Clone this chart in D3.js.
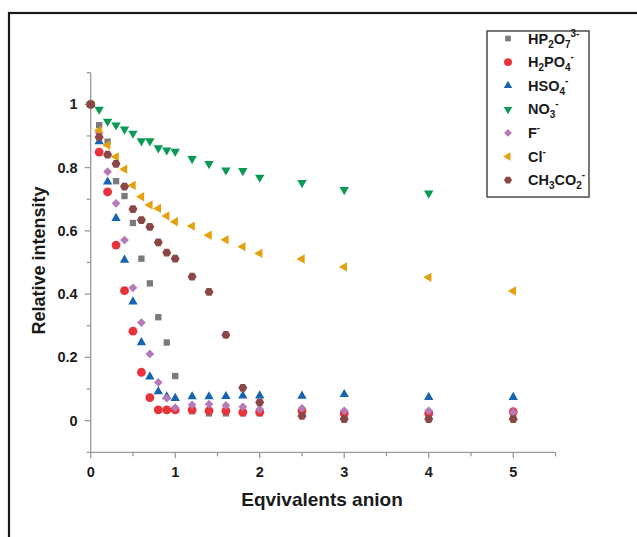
<!DOCTYPE html>
<html>
<head>
<meta charset="utf-8">
<script src="https://cdn.jsdelivr.net/npm/d3@7"></script>
<style>
  html, body { margin: 0; padding: 0; background: #fff; }
  svg { display: block; }
  text { font-family: "Liberation Sans", Arial, Helvetica, sans-serif; font-weight: bold; fill: #1a1a1a; }
</style>
</head>
<body>
<svg id="chart" width="637" height="537"></svg>
<script>
// Equivalents of added anion (x values shared by all series)
const equivalents = [0, 0.1, 0.2, 0.3, 0.4, 0.5, 0.6, 0.7, 0.8, 0.9, 1.0, 1.2, 1.4, 1.6, 1.8, 2.0, 2.5, 3, 4, 5];

// Relative intensity per anion (null = not measured)
const hp2o7  = [1, 0.934, 0.882, 0.757, 0.710, 0.625, 0.512, 0.434, 0.327, 0.247, 0.141, 0.030, 0.023, 0.023, 0.023, 0.023, 0.020, 0.020, 0.020, 0.020];
const h2po4  = [1, 0.849, 0.723, 0.555, 0.411, 0.283, 0.153, 0.073, 0.034, 0.034, 0.034, 0.034, 0.031, 0.031, 0.027, 0.027, 0.031, 0.023, 0.023, 0.028];
const hso4   = [1, 0.882, 0.755, 0.640, 0.508, 0.376, 0.247, 0.139, 0.092, 0.076, 0.071, 0.076, 0.076, 0.077, 0.079, 0.079, 0.078, 0.083, 0.074, 0.074];
const no3    = [1, 0.984, 0.946, 0.934, 0.921, 0.908, 0.884, 0.884, 0.862, 0.855, 0.851, 0.828, 0.812, 0.792, 0.790, 0.769, 0.752, 0.730, 0.719, null];
const fluor  = [1, 0.910, 0.787, 0.687, 0.571, 0.420, 0.310, 0.211, 0.121, 0.071, 0.041, 0.050, 0.052, 0.048, 0.044, 0.036, 0.039, 0.031, 0.031, 0.027];
const chlor  = [1, 0.917, 0.871, 0.834, 0.795, 0.744, 0.708, 0.682, 0.671, 0.647, 0.629, 0.615, 0.586, 0.572, 0.550, 0.529, 0.511, 0.486, 0.453, 0.410];
const ch3co2 = [1, 0.896, 0.841, 0.812, 0.740, 0.669, 0.634, 0.613, 0.564, 0.531, 0.512, 0.455, 0.407, 0.271, 0.104, 0.058, 0.015, 0.005, 0.005, 0.005];

// Tick labels
const xTickLabels = [0, 1, 2, 3, 4, 5];
const yTickLabels = [0, 0.2, 0.4, 0.6, 0.8, 1];

// Hexagon symbol type for acetate
const symbolHexagon = {
  draw(context, size) {
    const r = Math.sqrt(size / (1.5 * Math.sqrt(3)));
    for (let i = 0; i < 6; i++) {
      const a = Math.PI / 3 * i;
      const px = r * Math.cos(a), py = r * Math.sin(a);
      if (i === 0) context.moveTo(px, py); else context.lineTo(px, py);
    }
    context.closePath();
  }
};

// Legend labels as [text, kind] parts: n = normal, b = subscript, p = superscript
const series = [
  { values: hp2o7,  color: "#7a7a7a", type: d3.symbolSquare,   size: 40, rot: 0,
    label: [["HP", "n"], ["2", "b"], ["O", "n"], ["7", "b"], ["3-", "p"]] },
  { values: h2po4,  color: "#e8333b", type: d3.symbolCircle,   size: 62, rot: 0,
    label: [["H", "n"], ["2", "b"], ["PO", "n"], ["4", "b"], ["-", "p"]] },
  { values: hso4,   color: "#1764b0", type: d3.symbolTriangle, size: 38, rot: 0,
    label: [["HSO", "n"], ["4", "b"], ["-", "p"]] },
  { values: no3,    color: "#0a9a55", type: d3.symbolTriangle, size: 38, rot: 180,
    label: [["NO", "n"], ["3", "b"], ["-", "p"]] },
  { values: fluor,  color: "#b77ab8", type: d3.symbolSquare,   size: 38, rot: 45,
    label: [["F", "n"], ["-", "p"]] },
  { values: chlor,  color: "#e5a00c", type: d3.symbolTriangle, size: 38, rot: -90,
    label: [["Cl", "n"], ["-", "p"]] },
  { values: ch3co2, color: "#8b4646", type: symbolHexagon,     size: 52, rot: 0,
    label: [["CH", "n"], ["3", "b"], ["CO", "n"], ["2", "b"], ["-", "p"]] }
];

const svg = d3.select("#chart");

// Outer figure frame
svg.append("rect")
  .attr("x", 9).attr("y", 13).attr("width", 700).attr("height", 600)
  .attr("fill", "none").attr("stroke", "#1a1a1a").attr("stroke-width", 2.2);

const x = d3.scaleLinear().domain([0, 5.5]).range([90.7, 555.5]);
const y = d3.scaleLinear().domain([-0.1, 1.1]).range([452.3, 72.7]);

const axisColor = "#9a9a9a";

// X axis: major ticks at integers, minor at halves
const xAxis = svg.append("g").attr("transform", `translate(0,${y(-0.1)})`);
xAxis.append("line").attr("x1", x(0)).attr("x2", x(5.5)).attr("stroke", axisColor).attr("stroke-width", 1.3);
d3.range(0, 5.51, 0.5).forEach(v => {
  const major = Math.abs(v - Math.round(v)) < 1e-6 && v <= 5;
  xAxis.append("line").attr("x1", x(v)).attr("x2", x(v))
    .attr("y1", 0).attr("y2", major ? 6 : 4)
    .attr("stroke", axisColor).attr("stroke-width", 1.3);
});
xAxis.selectAll("text.tick").data(xTickLabels).join("text")
  .attr("class", "tick")
  .attr("x", d => x(d)).attr("y", 25)
  .attr("text-anchor", "middle").attr("font-size", 14.5)
  .text(d => d3.format("~g")(d));

// Y axis: major ticks every 0.2, minor every 0.1
const yAxis = svg.append("g").attr("transform", `translate(${x(0)},0)`);
yAxis.append("line").attr("y1", y(-0.1)).attr("y2", y(1.1)).attr("stroke", axisColor).attr("stroke-width", 1.3);
d3.range(-1, 12).forEach(i => {
  const v = i / 10;
  const major = i >= 0 && i <= 10 && i % 2 === 0;
  yAxis.append("line").attr("x1", major ? -6 : -4).attr("x2", 0)
    .attr("y1", y(v)).attr("y2", y(v))
    .attr("stroke", axisColor).attr("stroke-width", 1.3);
});
yAxis.selectAll("text.tick").data(yTickLabels).join("text")
  .attr("class", "tick")
  .attr("x", -13).attr("y", d => y(d) + 5)
  .attr("text-anchor", "end").attr("font-size", 14.5)
  .text(d => d3.format("~g")(d));

// Axis titles
svg.append("text")
  .attr("x", 322).attr("y", 506)
  .attr("text-anchor", "middle").attr("font-size", 19)
  .text("Eqvivalents anion");
svg.append("text")
  .attr("transform", `translate(45,${(y(-0.1) + y(1.1)) / 2 - 2}) rotate(-90)`)
  .attr("text-anchor", "middle").attr("font-size", 18)
  .text("Relative intensity");

// Data points
const plot = svg.append("g");
series.forEach(s => {
  const pts = equivalents.map((e, i) => ({ e, v: s.values[i] })).filter(d => d.v !== null);
  const sym = d3.symbol().type(s.type).size(s.size);
  plot.append("g").selectAll("path").data(pts).join("path")
    .attr("d", sym)
    .attr("transform", d => `translate(${x(d.e)},${y(d.v)}) rotate(${s.rot})`)
    .attr("fill", s.color);
});

// Legend
const lg = svg.append("g");
lg.append("rect")
  .attr("x", 487).attr("y", 31).attr("width", 102).attr("height", 166)
  .attr("fill", "#fff").attr("stroke", "#4a4a4a").attr("stroke-width", 1.5);
series.forEach((s, i) => {
  const cy = 38.5 + i * 23.6;
  lg.append("path")
    .attr("d", d3.symbol().type(s.type).size(s.size * 0.8))
    .attr("transform", `translate(508,${cy}) rotate(${s.rot})`)
    .attr("fill", s.color);
  const t = lg.append("text").attr("x", 528).attr("y", cy + 5).attr("font-size", 14.5);
  // Sub/superscript parts shift the baseline; each dy is relative to the previous part
  let offset = 0;
  s.label.forEach(([txt, kind]) => {
    const want = kind === "b" ? 4 : kind === "p" ? -7 : 0;
    const ts = t.append("tspan").text(txt).attr("dy", want - offset);
    if (kind !== "n") ts.attr("font-size", 10);
    offset = want;
  });
});
</script>
</body>
</html>
